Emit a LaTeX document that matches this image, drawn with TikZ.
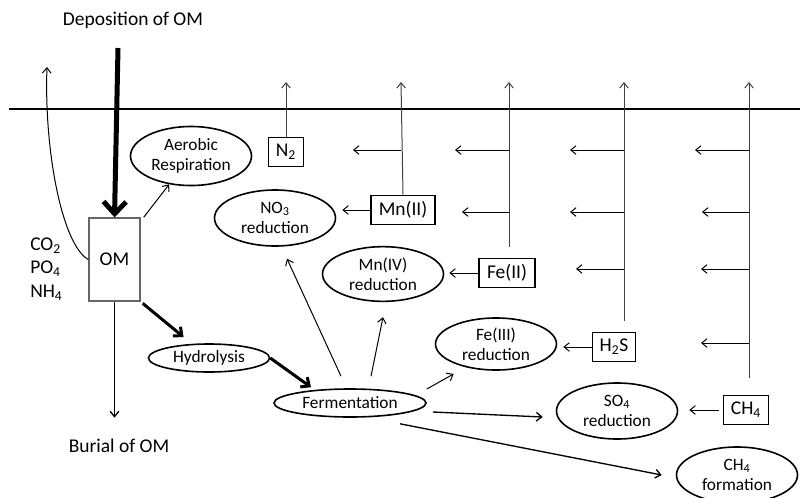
\documentclass[tikz,border=0pt]{standalone}
\usepackage{fontspec}
\setmainfont{Carlito}
\usetikzlibrary{shapes.geometric,arrows.meta}
\newcommand{\bigtxt}{\fontsize{14.6}{17.6}\selectfont}
\newcommand{\smalltxt}{\fontsize{13}{15}\selectfont}
\begin{document}
\begin{tikzpicture}[x=0.75pt,y=-0.75pt,
  proc/.style={ellipse, draw, line width=1.2pt, inner sep=0pt, minimum width=90.75pt, minimum height=41pt, align=center, font=\smalltxt},
  spec/.style={rectangle, draw, line width=1.2pt, inner sep=0pt, minimum height=22pt, font=\bigtxt},
  arr/.style={-{Straight Barb[length=4pt,width=6.5pt]}, line width=0.75pt},
  fat/.style={-{Straight Barb[length=5pt,width=9pt]}, line width=2.25pt},
  diff/.style={line width=0.8pt, black!75}]
\useasboundingbox (0,0) rectangle (800,497);
% labels and organic matter
\node[font=\bigtxt] (dep) at (133,20) {Deposition of OM};
\node[font=\bigtxt] (bur) at (119,446) {Burial of OM};
\node[draw=black!60, line width=1pt, minimum width=38.25pt, minimum height=62.25pt, font=\bigtxt] (om) at (114.5,259.5) {OM};
\node[anchor=west, align=left, inner sep=0pt, font=\fontsize{14.6}{17.6}\selectfont] (nut) at (30,269) {CO\textsubscript{2}\\PO\textsubscript{4}\\NH\textsubscript{4}};
% processes
\node[proc, minimum height=44.25pt] (aer) at (191,156) {Aerobic\\Respiration};
\node[proc, minimum height=42pt] (no3) at (275,218) {NO\textsubscript{3}\\reduction};
\node[proc] (mn4) at (383,274) {Mn(IV)\\reduction};
\node[proc, minimum height=39pt] (fe3) at (496,344) {Fe(III)\\reduction};
\node[proc, minimum height=42pt] (so4) at (617,411) {SO\textsubscript{4}\\reduction};
\node[proc, minimum height=42pt] (ch4f) at (737,475) {CH\textsubscript{4}\\formation};
\node[proc, minimum height=21pt] (hyd) at (209,358) {Hydrolysis};
\node[proc, minimum width=114pt, minimum height=21pt] (fer) at (350,403) {Fermentation};
% reduced species
\node[spec, minimum width=26.25pt] (n2) at (286,152) {N\textsubscript{2}};
\node[spec, minimum width=48pt] (mn2) at (403,210) {Mn(II)};
\node[spec, minimum width=42pt] (fe2) at (507,273) {Fe(II)};
\node[spec, minimum width=32.25pt] (h2s) at (614,347) {H\textsubscript{2}S};
\node[spec, minimum width=33.75pt] (ch4) at (746,410) {CH\textsubscript{4}};
% sediment surface and free ends
\coordinate (sl) at (9,109);
\coordinate (sr) at (800,109);
\coordinate (depin) at (118,48);
\coordinate (co2out) at (47,67);
\coordinate (up0) at (286,82);
\coordinate (up1) at (401,82);
\coordinate (up2) at (509,82);
\coordinate (up3) at (624,82);
\coordinate (up4) at (749,82);
\coordinate (lo2) at (509,247);
\coordinate (lo3) at (624,321);
\coordinate (lo4) at (749,378);
\coordinate (a11) at (353,150);
\coordinate (a21) at (455,150);
\coordinate (a22) at (462,212);
\coordinate (a31) at (570,150);
\coordinate (a32) at (570,212);
\coordinate (a33) at (576,269);
\coordinate (a41) at (695,150);
\coordinate (a42) at (702,212);
\coordinate (a43) at (701,269);
\coordinate (a44) at (701,343);
\draw[line width=1pt] (sl) -- (sr);
% inputs and outputs of OM
\draw[-{Straight Barb[length=9pt,width=17pt]}, line width=3.75pt] (depin) -- (om.north);
\draw[arr] (om.west) .. controls (62,245) and (44,150) .. (co2out);
\draw[arr, line width=1pt] (om.south) -- ([shift={(0,116)}]om.south);
\draw[arr] ([shift={(3,0)}]om.north east) -- (aer);
\draw[fat, shorten >=8pt, shorten <=2pt] (om.south east) -- (hyd);
\draw[fat] (hyd.east) -- ([shift={(-39,-1)}]fer.north);
% fermentation products
\draw[arr] ([shift={(-9,-12)}]fer.north) -- ([shift={(12,12)}]no3.south);
\draw[arr] ([shift={(21,-12)}]fer.north) -- ([shift={(0,15)}]mn4.south);
\draw[arr] ([shift={(0,-14)}]fer.east) -- ([shift={(1,11)}]fe3.south west);
\draw[arr, line width=1pt] ([shift={(6,9)}]fer.east) -- ([shift={(-13,6)}]so4.west);
\draw[arr, line width=1pt] ([shift={(50,6)}]fer.south) -- ([shift={(-14,0)}]ch4f.west);
% reduced species to processes
\draw[arr] (mn2.west) -- ([shift={(6,0)}]mn2.west -| no3.east);
\draw[arr] (fe2.west) -- ([shift={(5,0)}]fe2.west -| mn4.east);
\draw[arr] (h2s.west) -- ([shift={(6,0)}]h2s.west -| fe3.east);
\draw[arr, shorten <=3pt] (ch4.west) -- ([shift={(11,0)}]ch4.west -| so4.east);
% upward fluxes
\draw[diff, arr] (n2.north) -- (up0);
\draw[diff, arr] (mn2.north) -- (up1);
\draw[diff, arr] (lo2) -- (up2);
\draw[diff, arr] (lo3) -- (up3);
\draw[diff, arr] (lo4) -- (up4);
% lateral fluxes
\draw[arr] (up1 |- a11) -- (a11);
\draw[arr] (up2 |- a21) -- (a21);
\draw[arr] (up2 |- a22) -- (a22);
\draw[arr] (up3 |- a31) -- (a31);
\draw[arr] (up3 |- a32) -- (a32);
\draw[arr] (up3 |- a33) -- (a33);
\draw[arr] (up4 |- a41) -- (a41);
\draw[arr] (up4 |- a42) -- (a42);
\draw[arr] (up4 |- a43) -- (a43);
\draw[arr] (up4 |- a44) -- (a44);
\end{tikzpicture}
\end{document}
